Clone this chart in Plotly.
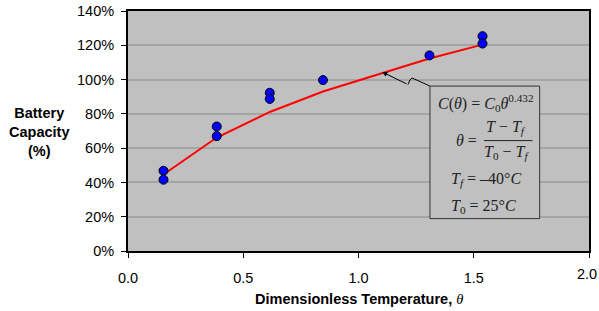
import plotly.graph_objects as go

# ---- data ----
theta_pts = [0.154, 0.154, 0.385, 0.385, 0.615, 0.615, 0.846, 1.308, 1.538, 1.538]
capacity_pts = [46.8, 41.6, 72.6, 67.0, 92.3, 88.7, 99.7, 114.1, 125.3, 121.0]

theta_fit = [0.154, 0.385, 0.615, 0.846, 1.308, 1.538]
capacity_fit = [44.6, 66.2, 81.1, 93.0, 112.3, 120.4]

x_ticks = [0.0, 0.5, 1.0, 1.5, 2.0]
x_tick_labels = ["0.0", "0.5", "1.0", "1.5", "2.0"]
y_ticks = [0, 20, 40, 60, 80, 100, 120, 140]
y_tick_labels = ["0%", "20%", "40%", "60%", "80%", "100%", "120%", "140%"]

SANS = "Liberation Sans, Arial, sans-serif"
SERIF = "Liberation Serif, Times New Roman, serif"
FS = 14.5

fig = go.Figure()
fig.add_trace(go.Scatter(x=theta_fit, y=capacity_fit, mode="lines",
                         line=dict(color="#FF0000", width=2), hoverinfo="skip"))
fig.add_trace(go.Scatter(x=theta_pts, y=capacity_pts, mode="markers",
                         marker=dict(color="#0000FF", size=9,
                                     line=dict(color="#000000", width=1))))

fig.update_layout(
    width=599, height=311,
    margin=dict(l=128, r=10, t=11, b=60, autoexpand=False),
    paper_bgcolor="white", plot_bgcolor="#C0C0C0",
    showlegend=False,
    font=dict(family=SANS, size=FS, color="#000000"),
)
# last x tick label is drawn as an annotation (it touches the page edge)
fig.update_xaxes(range=[0, 2], tickvals=x_ticks,
                 ticktext=x_tick_labels[:-1] + [""],
                 showgrid=False, zeroline=False, showline=True, linecolor="black",
                 linewidth=2, mirror=True, ticks="outside", ticklen=5,
                 tickcolor="black", tickwidth=1, ticklabelstandoff=8,
                 automargin=False)
fig.update_yaxes(range=[0, 140], tickvals=y_ticks, ticktext=y_tick_labels,
                 showgrid=True, gridcolor="#A4A4A4", gridwidth=1.5,
                 zeroline=False, showline=True, linecolor="black",
                 linewidth=2, mirror=True, ticks="outside", ticklen=5,
                 tickcolor="black", tickwidth=1, ticklabelstandoff=4,
                 automargin=False)
fig.add_annotation(x=x_ticks[-1], y=-0.096, xref="x", yref="paper",
                   text=x_tick_labels[-1], showarrow=False,
                   xanchor="right", xshift=10, yanchor="middle",
                   font=dict(family=SANS, size=FS, color="black"))

# equation box
fig.add_shape(type="rect", x0=1.310, x1=1.786, y0=18.9, y1=96.2,
              xref="x", yref="y", fillcolor="#C0C0C0",
              line=dict(color="#333333", width=1), layer="above")
# fraction bar
fig.add_shape(type="line", x0=1.544, x1=1.755, y0=64.4, y1=64.4,
              xref="x", yref="y", line=dict(color="#222222", width=1), layer="above")
# wavy callout line
fig.add_shape(type="path", xref="x", yref="y",
              path="M 1.2145,97.1 L 1.223,99.7 L 1.232,100.9 L 1.258,99.4 L 1.310,96.2",
              line=dict(color="black", width=1), layer="above")
fig.add_annotation(x=1.103, y=104.4, ax=1.2145, ay=97.1, xref="x", yref="y",
                   axref="x", ayref="y", text="", showarrow=True,
                   arrowhead=2, arrowsize=1, arrowwidth=1, arrowcolor="black")

eq_font = dict(family=SERIF, size=16, color="#222222")
eqs = [
    (1.5516, 86.3, "<i>C</i>(<i>θ</i>) = <i>C</i><sub>0</sub><i>θ</i><sup>0.432</sup>"),
    (1.470, 64.2, "<i>θ</i> ="),
    (1.642, 71.8, "<i>T</i> − <i>T<sub>f</sub></i>"),
    (1.642, 57.3, "<i>T</i><sub>0</sub> − <i>T<sub>f</sub></i>"),
    (1.555, 41.6, "<i>T<sub>f</sub></i> = –40°<i>C</i>"),
    (1.542, 26.0, "<i>T</i><sub>0</sub> = 25°<i>C</i>"),
]
for x, y, t in eqs:
    fig.add_annotation(x=x, y=y, xref="x", yref="y", text=t, showarrow=False,
                       xanchor="center", yanchor="middle", font=eq_font)

# axis titles
fig.add_annotation(x=-0.1936, y=0.4975, xref="paper", yref="paper",
                   text="<b>Battery<br>Capacity<br>(%)</b>", showarrow=False,
                   xanchor="center", yanchor="middle",
                   font=dict(family=SANS, size=FS, color="black"))
fig.add_annotation(x=0.5, y=-0.1985, xref="paper", yref="paper",
                   text="<b>Dimensionless Temperature, </b><span style=\"font-family:Liberation Serif\"><i>θ</i></span>",
                   showarrow=False, xanchor="center", yanchor="middle",
                   font=dict(family=SANS, size=FS, color="black"))

fig.write_html("out.html", config={"displayModeBar": False},
               post_script="document.body.style.margin='0';document.body.style.overflow='hidden';")
